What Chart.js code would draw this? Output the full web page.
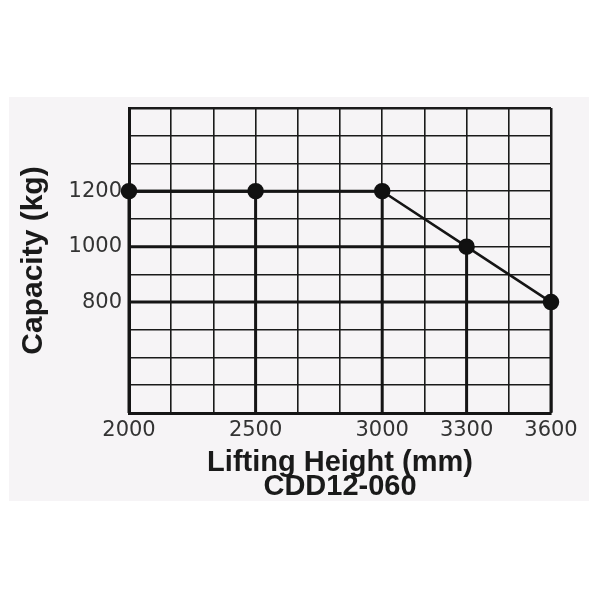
<!DOCTYPE html>
<html>
<head>
<meta charset="utf-8">
<script src="https://cdn.jsdelivr.net/npm/chart.js@4/dist/chart.umd.min.js"></script>
<style>
  html, body { margin: 0; padding: 0; background: #ffffff; }
  canvas { display: block; }
</style>
</head>
<body>
<canvas id="loadChart" width="600" height="600"></canvas>
<script>
// grid columns along the bottom, only some of them are labelled
var xTickLabels = ['2000', '', '', '2500', '', '', '3000', '', '3300', '', '3600'];
var yTickLabels = [800, 1000, 1200];
var heights = [2000, 2500, 3000, 3300, 3600];      // lifting height (mm)
var capacities = [1200, 1200, 1200, 1000, 800];    // capacity (kg)
var yMin = 400, yMax = 1500;

document.addEventListener('DOMContentLoaded', (event) => {
  var xMax = xTickLabels.length - 1;
  var points = heights.map((h, i) => ({ x: xTickLabels.indexOf(String(h)), y: capacities[i] }));

  // drop lines from every point to the left and bottom edges
  var dropSets = points.map((p) => ({
    data: [{ x: 0, y: p.y }, { x: p.x, y: p.y }, { x: p.x, y: yMin }],
    borderColor: '#151515',
    borderWidth: 3,
    pointRadius: 0,
    clip: false
  }));

  var cardBg = {
    id: 'cardBg',
    beforeDraw: (chart) => {
      var c = chart.ctx;
      c.save();
      c.fillStyle = '#f6f4f6';
      c.fillRect(9, 97, 580, 404);
      c.restore();
    }
  };

  var ctx = document.getElementById('loadChart').getContext('2d');
  var loadChart = new Chart(ctx, {
    type: 'line',
    data: {
      datasets: [{
        label: 'Capacity',
        data: points,
        borderColor: '#151515',
        borderWidth: 2.5,
        pointRadius: 7,
        pointBackgroundColor: '#111111',
        pointBorderColor: '#111111',
        clip: false
      }].concat(dropSets)
    },
    options: {
      responsive: false,
      animation: false,
      layout: { padding: { top: 108, right: 49, bottom: 101, left: 0 } },
      plugins: { legend: { display: false }, tooltip: { enabled: false } },
      scales: {
        x: {
          type: 'linear',
          min: 0,
          max: xMax,
          afterFit: (s) => { s.height = 86; },
          ticks: {
            stepSize: 1,
            autoSkip: false,
            maxRotation: 0,
            padding: 5,
            color: '#333333',
            font: { family: 'DejaVu Sans', size: 21 },
            callback: (v) => xTickLabels[v] || ''
          },
          grid: {
            drawTicks: false,
            color: '#1a1a1a',
            lineWidth: (c) => (c.tick && c.tick.value === xMax ? 2.5 : 1.6)
          },
          border: { color: '#151515', width: 3 },
          title: {
            display: true,
            text: ['Lifting Height (mm)', 'CDD12-060'],
            color: '#1a1a1a',
            padding: 0,
            font: { family: 'Liberation Sans', size: 29, weight: 'bold', lineHeight: 0.82 }
          }
        },
        y: {
          min: yMin,
          max: yMax,
          afterFit: (s) => { s.width = 129; },
          ticks: {
            stepSize: 100,
            autoSkip: false,
            padding: 7,
            color: '#333333',
            font: { family: 'DejaVu Sans', size: 21 },
            callback: (v) => (yTickLabels.includes(v) ? String(v) : '')
          },
          grid: {
            drawTicks: false,
            color: '#1a1a1a',
            lineWidth: (c) => (c.tick && c.tick.value === yMax ? 2.5 : 1.6)
          },
          border: { color: '#151515', width: 3 },
          title: {
            display: true,
            text: 'Capacity (kg)',
            color: '#1a1a1a',
            padding: { top: 16, bottom: 0 },
            font: { family: 'Liberation Sans', size: 30, weight: 'bold' }
          }
        }
      }
    },
    plugins: [cardBg]
  });
});
</script>
</body>
</html>
